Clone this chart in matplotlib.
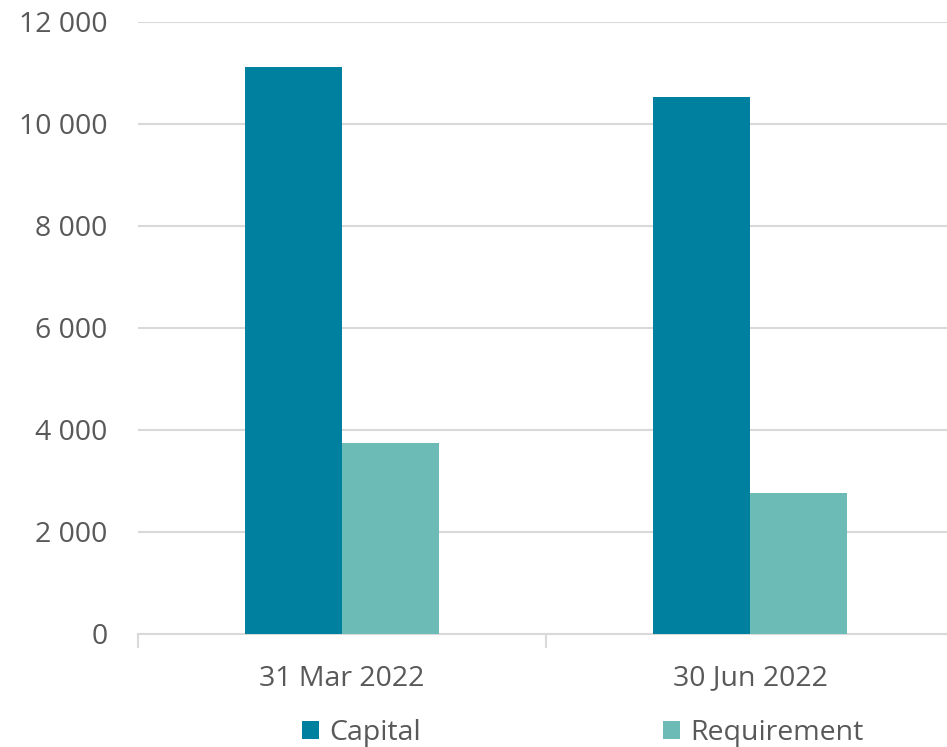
import matplotlib.pyplot as plt
import numpy as np

categories = ["31 Mar 2022", "30 Jun 2022"]
capital = [11120, 10530]
requirement = [3750, 2760]

CAPITAL_COLOR = "#00809F"
REQ_COLOR = "#6CBBB6"
TEXT_COLOR = "#595959"
GRID_COLOR = "#D9D9D9"

plt.rcParams["font.family"] = ["Open Sans", "DejaVu Sans"]

W, H = 947, 747
fig = plt.figure(figsize=(W / 100, H / 100), dpi=100)
ax = fig.add_axes([138 / W, (H - 634) / H, 816 / W, 612 / H])

x = np.arange(len(categories))
bw = 0.238
ax.bar(x - bw / 2, capital, bw, color=CAPITAL_COLOR, label="Capital", zorder=3)
ax.bar(x + bw / 2, requirement, bw, color=REQ_COLOR, label="Requirement", zorder=3)

ax.set_xlim(-0.5, 1.5)
ax.set_ylim(0, 12000)
ax.set_yticks(np.arange(0, 12001, 2000))
ax.set_yticklabels([f"{v:,}".replace(",", " ") for v in range(0, 12001, 2000)])
ax.yaxis.grid(True, color=GRID_COLOR, linewidth=1.5, zorder=0)
ax.set_axisbelow(True)

ax.set_xticks(x)
ax.set_xticklabels(categories)
ax.set_xticks([-0.5, 0.5, 1.5], minor=True)
ax.tick_params(axis="x", which="major", length=0, pad=22, labelsize=20.5, labelcolor=TEXT_COLOR)
ax.tick_params(axis="x", which="minor", length=10, width=1.5, color=GRID_COLOR)
ax.tick_params(axis="y", length=0, pad=22, labelsize=20.5, labelcolor=TEXT_COLOR)

for s in ["top", "right", "left"]:
    ax.spines[s].set_visible(False)
ax.spines["bottom"].set_color(GRID_COLOR)
ax.spines["bottom"].set_linewidth(1.5)

leg = fig.legend(loc="center", bbox_to_anchor=(583 / W, (H - 733) / H), ncol=2,
                 frameon=False, fontsize=20.5, handlelength=0.6, handleheight=0.6,
                 handletextpad=0.35, columnspacing=8.5, borderpad=0.2)
for t in leg.get_texts():
    t.set_color(TEXT_COLOR)

fig.savefig("out.png", dpi=100)
